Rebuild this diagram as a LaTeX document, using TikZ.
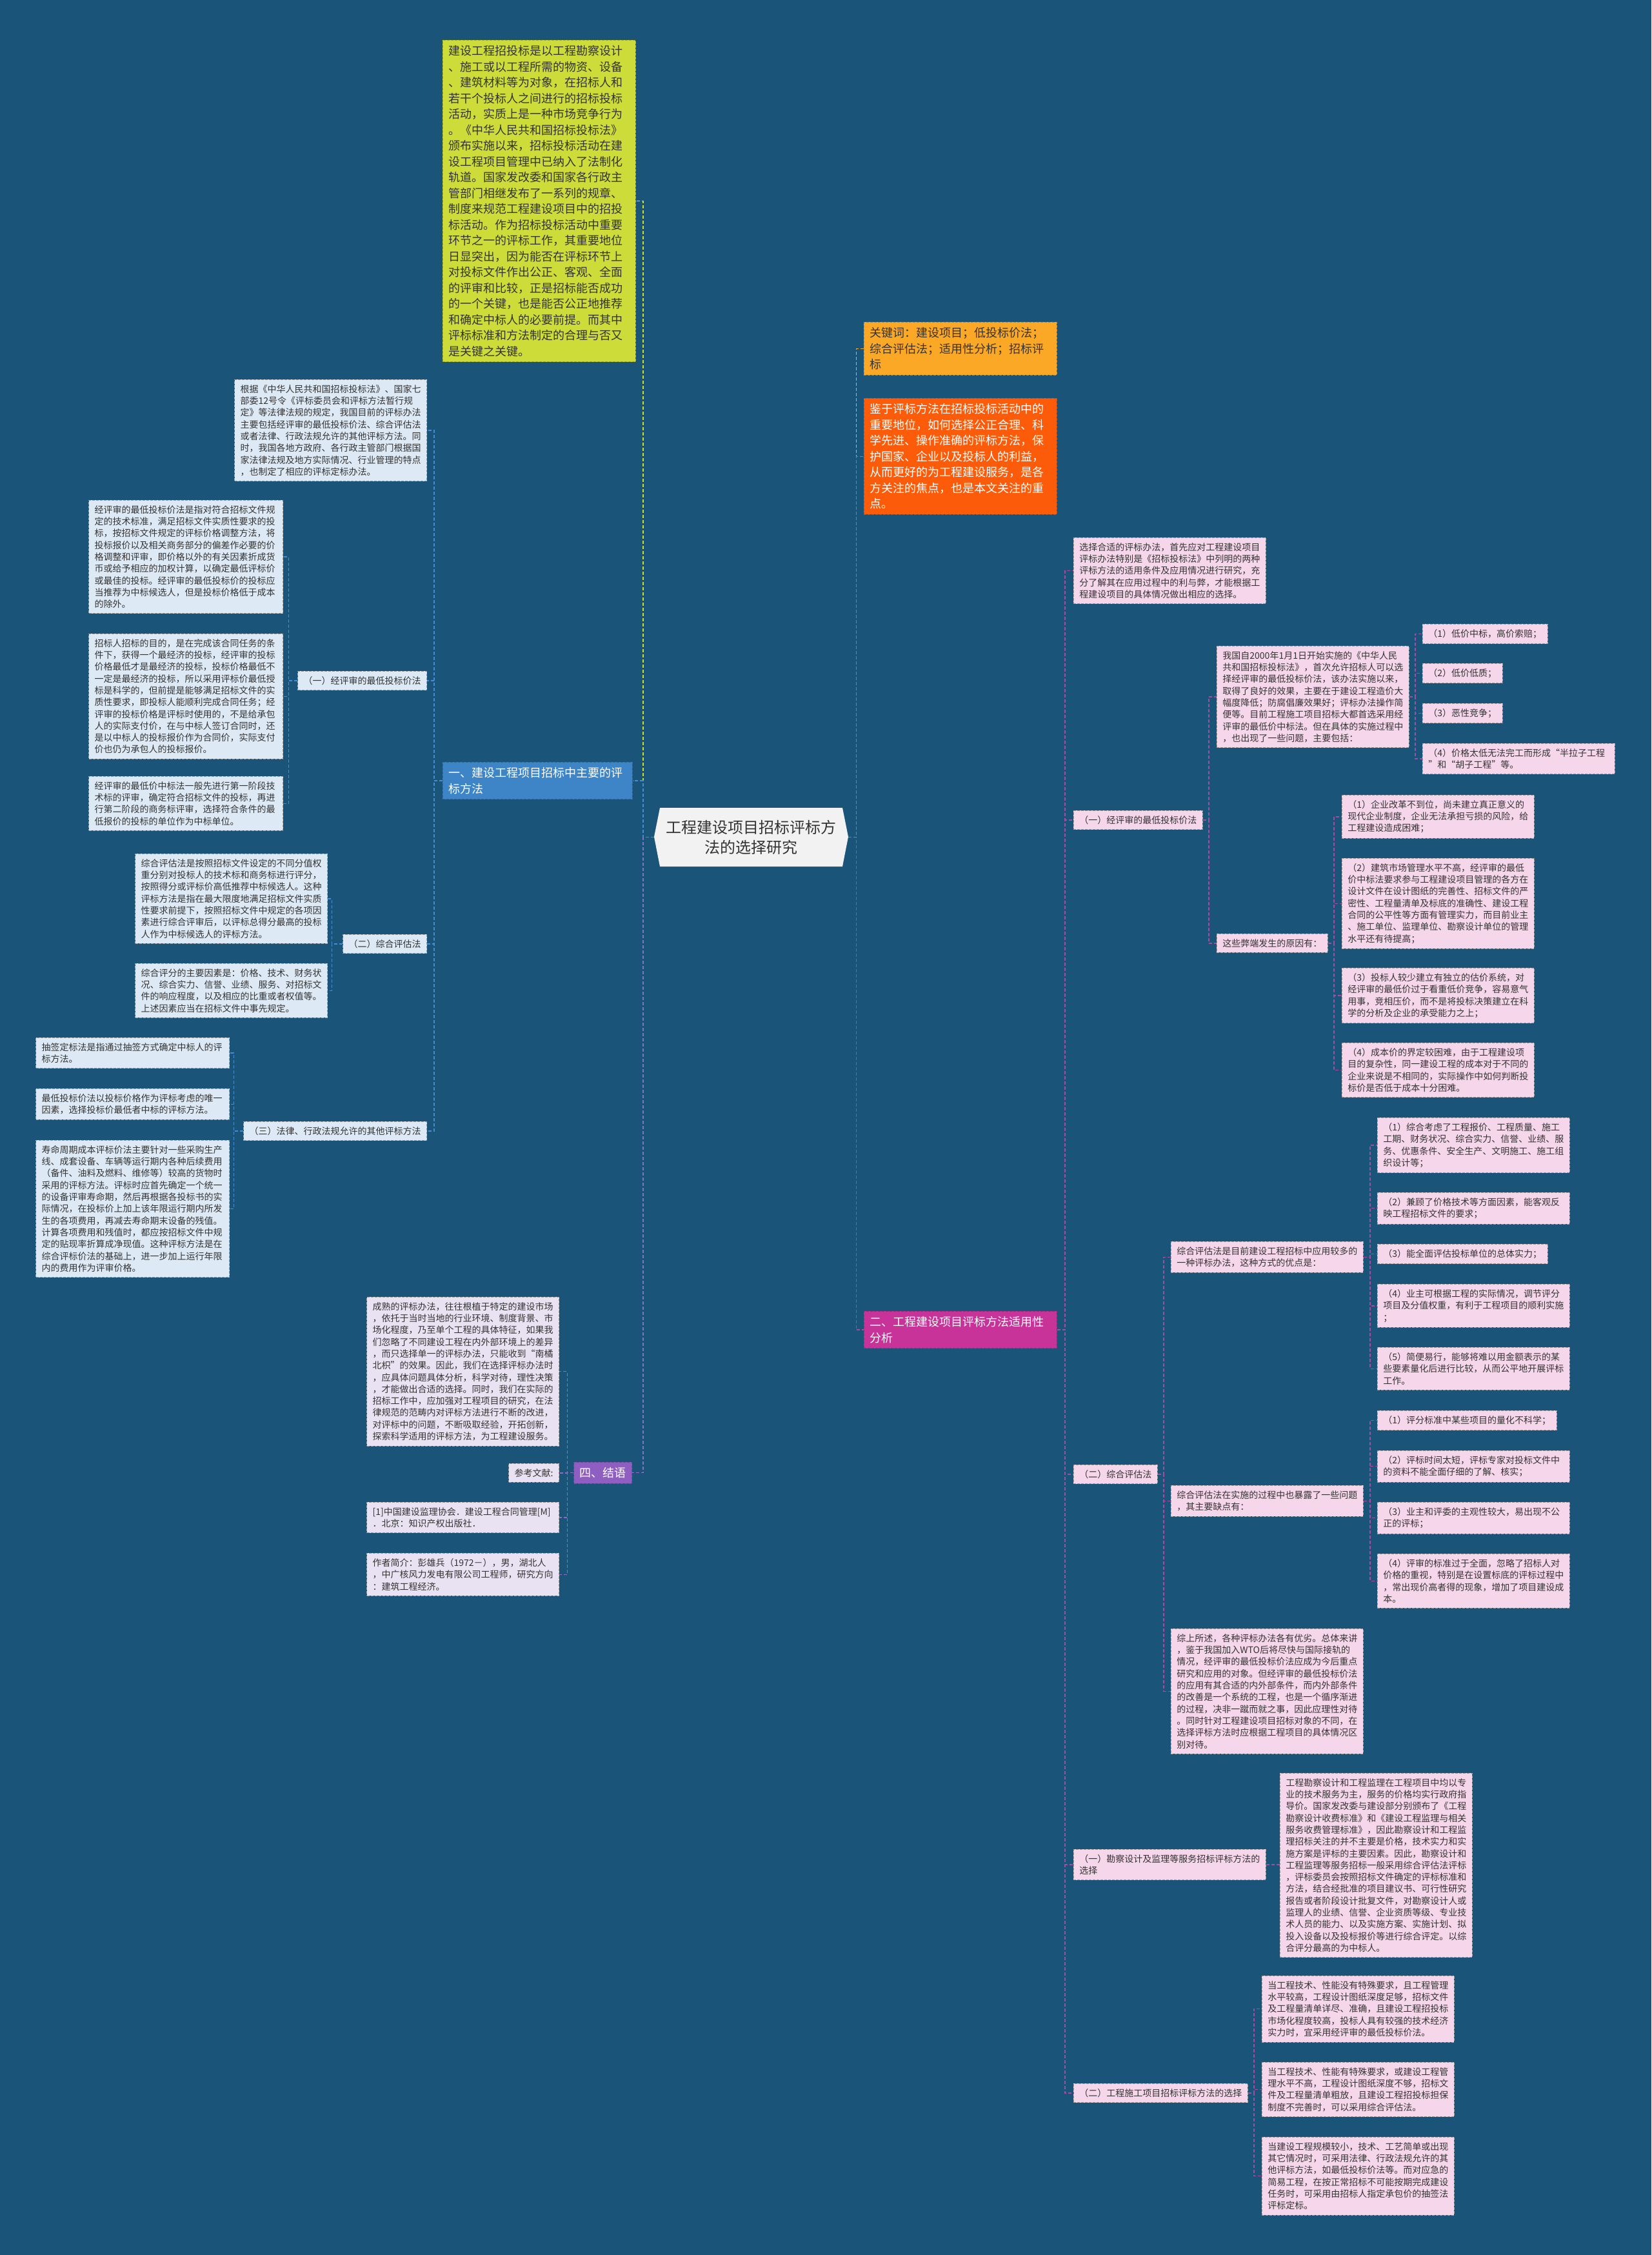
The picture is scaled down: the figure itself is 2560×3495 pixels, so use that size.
\documentclass[tikz,border=0pt]{standalone}
\usepackage{fontspec}
\setmainfont{Noto Sans CJK SC}

\definecolor{pagebg}{RGB}{26,84,121}
\definecolor{inktext}{RGB}{51,51,51}
\definecolor{rootfill}{RGB}{242,242,242}
\definecolor{limefill}{RGB}{205,220,57}
\definecolor{amberfill}{RGB}{250,168,37}
\definecolor{flamefill}{RGB}{252,92,10}
\definecolor{berryfill}{RGB}{199,51,152}
\definecolor{skyfill}{RGB}{61,133,198}
\definecolor{grapefill}{RGB}{142,94,192}
\definecolor{icefill}{RGB}{221,233,245}
\definecolor{mistfill}{RGB}{232,226,242}
\definecolor{rosefill}{RGB}{246,214,234}
\definecolor{skyline}{RGB}{70,140,210}
\definecolor{berryline}{RGB}{165,75,160}
\definecolor{grapeline}{RGB}{140,110,200}

\newcommand{\smalltext}{\fontsize{14}{18.3}\selectfont}
\newcommand{\bigtext}{\fontsize{18}{24.5}\selectfont}
\newcommand{\roottext}{\fontsize{24}{31}\selectfont}

\tikzset{
  box/.style={align=left, inner xsep=9pt, inner ysep=8pt, line width=0.8pt, dash pattern=on 4pt off 2pt},
  tw/.style={text width=#1pt},
  limebox/.style={box, draw=limefill!80!black, fill=limefill, text=inktext, font=\bigtext},
  amberbox/.style={box, draw=amberfill!80!black, fill=amberfill, text=inktext, font=\bigtext},
  flamebox/.style={box, draw=flamefill!80!black, fill=flamefill, text=white, font=\bigtext},
  berrybox/.style={box, draw=berryfill!80!black, fill=berryfill, text=white, font=\bigtext},
  skybox/.style={box, draw=skyfill!80!black, fill=skyfill, text=white, font=\bigtext},
  grapebox/.style={box, draw=grapefill!80!black, fill=grapefill, text=white, font=\bigtext},
  iceleaf/.style={box, draw=gray!75, fill=icefill, text=inktext, font=\smalltext},
  mistleaf/.style={box, draw=gray!75, fill=mistfill, text=inktext, font=\smalltext},
  roseleaf/.style={box, draw=gray!75, fill=rosefill, text=inktext, font=\smalltext},
  link/.style={line width=1.4pt, dash pattern=on 5pt off 3pt},
  limelink/.style={link, draw=limefill},
  amberlink/.style={link, draw=amberfill},
  flamelink/.style={link, draw=flamefill},
  skylink/.style={link, draw=skyline},
  berrylink/.style={link, draw=berryline},
  grapelink/.style={link, draw=grapeline}
}

\begin{document}
\begin{tikzpicture}[x=1pt, y=-1pt]
  \fill[pagebg] (0,0) rectangle (2560,3495);

  % centre
  \fill[rootfill] (1014,1297) -- (1023,1252) -- (1306,1252) -- (1315,1297) -- (1306,1343) -- (1023,1343) -- cycle;
  \node[font=\roottext, text=inktext, align=center, minimum width=301pt] (root) at (1164.5,1297.5) {工程建设项目招标评标方\\法的选择研究};

  % right main branches
  \node[amberbox, tw=281, anchor=north west] (kw) at (1339,499) {关键词：建设项目；低投标价法；\\综合评估法；适用性分析；招标评\\标};
  \node[flamebox, tw=281, anchor=north west] (aim) at (1339,617) {鉴于评标方法在招标投标活动中的\\重要地位，如何选择公正合理、科\\学先进、操作准确的评标方法，保\\护国家、企业以及投标人的利益，\\从而更好的为工程建设服务，是各\\方关注的焦点，也是本文关注的重\\点。};
  \node[berrybox, tw=281, anchor=north west] (sec2) at (1339,2032) {二、工程建设项目评标方法适用性\\分析};

  % left main branches
  \node[limebox, tw=281, anchor=north west] (intro) at (686,62) {建设工程招投标是以工程勘察设计\\、施工或以工程所需的物资、设备\\、建筑材料等为对象，在招标人和\\若干个投标人之间进行的招标投标\\活动，实质上是一种市场竞争行为\\。《中华人民共和国招标投标法》\\颁布实施以来，招标投标活动在建\\设工程项目管理中已纳入了法制化\\轨道。国家发改委和国家各行政主\\管部门相继发布了一系列的规章、\\制度来规范工程建设项目中的招投\\标活动。作为招标投标活动中重要\\环节之一的评标工作，其重要地位\\日显突出，因为能否在评标环节上\\对投标文件作出公正、客观、全面\\的评审和比较，正是招标能否成功\\的一个关键，也是能否公正地推荐\\和确定中标人的必要前提。而其中\\评标标准和方法制定的合理与否又\\是关键之关键。};
  \node[skybox, tw=276, anchor=north west] (sec1) at (686,1181) {一、建设工程项目招标中主要的评\\标方法};
  \node[grapebox, anchor=north east] (four) at (980,2266) {四、结语};

  % section one
  \node[iceleaf, tw=280, anchor=north east] (L1) at (662,588) {根据《中华人民共和国招标投标法》、国家七\\部委12号令《评标委员会和评标方法暂行规\\定》等法律法规的规定，我国目前的评标办法\\主要包括经评审的最低投标价法、综合评估法\\或者法律、行政法规允许的其他评标方法。同\\时，我国各地方政府、各行政主管部门根据国\\家法律法规及地方实际情况、行业管理的特点\\，也制定了相应的评标定标办法。};
  \node[iceleaf, anchor=north east] (LA) at (662,1040) {（一）经评审的最低投标价法};
  \node[iceleaf, tw=283, anchor=north east] (LA1) at (439,775) {经评审的最低投标价法是指对符合招标文件规\\定的技术标准，满足招标文件实质性要求的投\\标，按招标文件规定的评标价格调整方法，将\\投标报价以及相关商务部分的偏差作必要的价\\格调整和评审，即价格以外的有关因素折成货\\币或给予相应的加权计算，以确定最低评标价\\或最佳的投标。经评审的最低投标价的投标应\\当推荐为中标候选人，但是投标价格低于成本\\的除外。};
  \node[iceleaf, tw=283, anchor=north east] (LA2) at (439,982) {招标人招标的目的，是在完成该合同任务的条\\件下，获得一个最经济的投标，经评审的投标\\价格最低才是最经济的投标，投标价格最低不\\一定是最经济的投标，所以采用评标价最低授\\标是科学的，但前提是能够满足招标文件的实\\质性要求，即投标人能顺利完成合同任务；经\\评审的投标价格是评标时使用的，不是给承包\\人的实际支付价，在与中标人签订合同时，还\\是以中标人的投标报价作为合同价，实际支付\\价也仍为承包人的投标报价。};
  \node[iceleaf, tw=283, anchor=north east] (LA3) at (439,1203) {经评审的最低价中标法一般先进行第一阶段技\\术标的评审，确定符合招标文件的投标，再进\\行第二阶段的商务标评审，选择符合条件的最\\低报价的投标的单位作为中标单位。};
  \node[iceleaf, anchor=north east] (LB) at (662,1448) {（二）综合评估法};
  \node[iceleaf, tw=280, anchor=north east] (LB1) at (508,1323) {综合评估法是按照招标文件设定的不同分值权\\重分别对投标人的技术标和商务标进行评分，\\按照得分或评标价高低推荐中标候选人。这种\\评标方法是指在最大限度地满足招标文件实质\\性要求前提下，按照招标文件中规定的各项因\\素进行综合评审后，以评标总得分最高的投标\\人作为中标候选人的评标方法。};
  \node[iceleaf, tw=280, anchor=north east] (LB2) at (508,1493) {综合评分的主要因素是：价格、技术、财务状\\况、综合实力、信誉、业绩、服务、对招标文\\件的响应程度，以及相应的比重或者权值等。\\上述因素应当在招标文件中事先规定。};
  \node[iceleaf, anchor=north east] (LC) at (662,1738) {（三）法律、行政法规允许的其他评标方法};
  \node[iceleaf, tw=282, anchor=north east] (LC1) at (356,1608) {抽签定标法是指通过抽签方式确定中标人的评\\标方法。};
  \node[iceleaf, tw=282, anchor=north east] (LC2) at (356,1687) {最低投标价法以投标价格作为评标考虑的唯一\\因素，选择投标价最低者中标的评标方法。};
  \node[iceleaf, tw=282, anchor=north east] (LC3) at (356,1767) {寿命周期成本评标价法主要针对一些采购生产\\线、成套设备、车辆等运行期内各种后续费用\\（备件、油料及燃料、维修等）较高的货物时\\采用的评标方法。评标时应首先确定一个统一\\的设备评审寿命期，然后再根据各投标书的实\\际情况，在投标价上加上该年限运行期内所发\\生的各项费用，再减去寿命期末设备的残值。\\计算各项费用和残值时，都应按招标文件中规\\定的贴现率折算成净现值。这种评标方法是在\\综合评标价法的基础上，进一步加上运行年限\\内的费用作为评审价格。};

  % section four
  \node[mistleaf, tw=280, anchor=north east] (F1) at (867,2010) {成熟的评标办法，往往根植于特定的建设市场\\，依托于当时当地的行业环境、制度背景、市\\场化程度，乃至单个工程的具体特征，如果我\\们忽略了不同建设工程在内外部环境上的差异\\，而只选择单一的评标办法，只能收到“南橘\\北枳”的效果。因此，我们在选择评标办法时\\，应具体问题具体分析，科学对待，理性决策\\，才能做出合适的选择。同时，我们在实际的\\招标工作中，应加强对工程项目的研究，在法\\律规范的范畴内对评标方法进行不断的改进，\\对评标中的问题，不断吸取经验，开拓创新，\\探索科学适用的评标方法，为工程建设服务。};
  \node[mistleaf, anchor=north east] (F2) at (867,2268) {参考文献:};
  \node[mistleaf, tw=280, anchor=north east] (F3) at (867,2328) {[1]中国建设监理协会．建设工程合同管理[M]\\．北京：知识产权出版社．};
  \node[mistleaf, tw=280, anchor=north east] (F4) at (867,2407) {作者简介：彭雄兵（1972－），男，湖北人\\，中广核风力发电有限公司工程师，研究方向\\：建筑工程经济。};

  % section two
  \node[roseleaf, tw=280, anchor=north west] (R1) at (1664,833) {选择合适的评标办法，首先应对工程建设项目\\评标办法特别是《招标投标法》中列明的两种\\评标方法的适用条件及应用情况进行研究，充\\分了解其在应用过程中的利与弊，才能根据工\\程建设项目的具体情况做出相应的选择。};
  \node[roseleaf, anchor=north west] (RA) at (1664,1256) {（一）经评审的最低投标价法};
  \node[roseleaf, tw=280, anchor=north west] (RA1) at (1886,1001) {我国自2000年1月1日开始实施的《中华人民\\共和国招标投标法》，首次允许招标人可以选\\择经评审的最低投标价法，该办法实施以来，\\取得了良好的效果，主要在于建设工程造价大\\幅度降低；防腐倡廉效果好；评标办法操作简\\便等。目前工程施工项目招标大都首选采用经\\评审的最低价中标法。但在具体的实施过程中\\，也出现了一些问题，主要包括：};
  \node[roseleaf, anchor=north west] (RA1a) at (2205,967) {（1）低价中标，高价索赔；};
  \node[roseleaf, anchor=north west] (RA1b) at (2205,1028) {（2）低价低质；};
  \node[roseleaf, anchor=north west] (RA1c) at (2205,1090) {（3）恶性竞争；};
  \node[roseleaf, tw=280, anchor=north west] (RA1d) at (2205,1152) {（4）价格太低无法完工而形成“半拉子工程\\”和“胡子工程”等。};
  \node[roseleaf, anchor=north west] (RA2) at (1886,1447) {这些弊端发生的原因有：};
  \node[roseleaf, tw=280, anchor=north west] (RA2a) at (2080,1232) {（1）企业改革不到位，尚未建立真正意义的\\现代企业制度，企业无法承担亏损的风险，给\\工程建设造成困难；};
  \node[roseleaf, tw=280, anchor=north west] (RA2b) at (2080,1330) {（2）建筑市场管理水平不高，经评审的最低\\价中标法要求参与工程建设项目管理的各方在\\设计文件在设计图纸的完善性、招标文件的严\\密性、工程量清单及标底的准确性、建设工程\\合同的公平性等方面有管理实力，而目前业主\\、施工单位、监理单位、勘察设计单位的管理\\水平还有待提高；};
  \node[roseleaf, tw=280, anchor=north west] (RA2c) at (2080,1500) {（3）投标人较少建立有独立的估价系统，对\\经评审的最低价过于看重低价竞争，容易意气\\用事，竞相压价，而不是将投标决策建立在科\\学的分析及企业的承受能力之上；};
  \node[roseleaf, tw=280, anchor=north west] (RA2d) at (2080,1616) {（4）成本价的界定较困难，由于工程建设项\\目的复杂性，同一建设工程的成本对于不同的\\企业来说是不相同的，实际操作中如何判断投\\标价是否低于成本十分困难。};

  \node[roseleaf, anchor=north west] (RB) at (1664,2270) {（二）综合评估法};
  \node[roseleaf, tw=280, anchor=north west] (RB1) at (1815,1924) {综合评估法是目前建设工程招标中应用较多的\\一种评标办法，这种方式的优点是：};
  \node[roseleaf, tw=280, anchor=north west] (RB1a) at (2135,1732) {（1）综合考虑了工程报价、工程质量、施工\\工期、财务状况、综合实力、信誉、业绩、服\\务、优惠条件、安全生产、文明施工、施工组\\织设计等；};
  \node[roseleaf, tw=280, anchor=north west] (RB1b) at (2135,1848) {（2）兼顾了价格技术等方面因素，能客观反\\映工程招标文件的要求；};
  \node[roseleaf, anchor=north west] (RB1c) at (2135,1928) {（3）能全面评估投标单位的总体实力；};
  \node[roseleaf, tw=280, anchor=north west] (RB1d) at (2135,1990) {（4）业主可根据工程的实际情况，调节评分\\项目及分值权重，有利于工程项目的顺利实施\\；};
  \node[roseleaf, tw=280, anchor=north west] (RB1e) at (2135,2088) {（5）简便易行，能够将难以用金额表示的某\\些要素量化后进行比较，从而公平地开展评标\\工作。};
  \node[roseleaf, tw=280, anchor=north west] (RB2) at (1815,2302) {综合评估法在实施的过程中也暴露了一些问题\\，其主要缺点有：};
  \node[roseleaf, anchor=north west] (RB2a) at (2135,2186) {（1）评分标准中某些项目的量化不科学；};
  \node[roseleaf, tw=280, anchor=north west] (RB2b) at (2135,2248) {（2）评标时间太短，评标专家对投标文件中\\的资料不能全面仔细的了解、核实；};
  \node[roseleaf, tw=280, anchor=north west] (RB2c) at (2135,2328) {（3）业主和评委的主观性较大，易出现不公\\正的评标；};
  \node[roseleaf, tw=280, anchor=north west] (RB2d) at (2135,2408) {（4）评审的标准过于全面，忽略了招标人对\\价格的重视，特别是在设置标底的评标过程中\\，常出现价高者得的现象，增加了项目建设成\\本。};
  \node[roseleaf, tw=280, anchor=north west] (RB3) at (1815,2524) {综上所述，各种评标办法各有优劣。总体来讲\\，鉴于我国加入WTO后将尽快与国际接轨的\\情况，经评审的最低投标价法应成为今后重点\\研究和应用的对象。但经评审的最低投标价法\\的应用有其合适的内外部条件，而内外部条件\\的改善是一个系统的工程，也是一个循序渐进\\的过程，决非一蹴而就之事，因此应理性对待\\。同时针对工程建设项目招标对象的不同，在\\选择评标方法时应根据工程项目的具体情况区\\别对待。};

  \node[roseleaf, tw=280, anchor=north west] (RC) at (1664,2866) {（一）勘察设计及监理等服务招标评标方法的\\选择};
  \node[roseleaf, tw=280, anchor=north west] (RC1) at (1984,2748) {工程勘察设计和工程监理在工程项目中均以专\\业的技术服务为主，服务的价格均实行政府指\\导价。国家发改委与建设部分别颁布了《工程\\勘察设计收费标准》和《建设工程监理与相关\\服务收费管理标准》，因此勘察设计和工程监\\理招标关注的并不主要是价格，技术实力和实\\施方案是评标的主要因素。因此，勘察设计和\\工程监理等服务招标一般采用综合评估法评标\\，评标委员会按照招标文件确定的评标标准和\\方法，结合经批准的项目建议书、可行性研究\\报告或者阶段设计批复文件，对勘察设计人或\\监理人的业绩、信誉、企业资质等级、专业技\\术人员的能力、以及实施方案、实施计划、拟\\投入设备以及投标报价等进行综合评定。以综\\合评分最高的为中标人。};
  \node[roseleaf, anchor=north west] (RD) at (1664,3229) {（二）工程施工项目招标评标方法的选择};
  \node[roseleaf, tw=280, anchor=north west] (RD1) at (1956,3062) {当工程技术、性能没有特殊要求，且工程管理\\水平较高，工程设计图纸深度足够，招标文件\\及工程量清单详尽、准确，且建设工程招投标\\市场化程度较高，投标人具有较强的技术经济\\实力时，宜采用经评审的最低投标价法。};
  \node[roseleaf, tw=280, anchor=north west] (RD2) at (1956,3196) {当工程技术、性能有特殊要求，或建设工程管\\理水平不高，工程设计图纸深度不够，招标文\\件及工程量清单粗放，且建设工程招投标担保\\制度不完善时，可以采用综合评估法。};
  \node[roseleaf, tw=280, anchor=north west] (RD3) at (1956,3312) {当建设工程规模较小，技术、工艺简单或出现\\其它情况时，可采用法律、行政法规允许的其\\他评标方法，如最低投标价法等。而对应急的\\简易工程，在按正常招标不可能按期完成建设\\任务时，可采用由招标人指定承包价的抽签法\\评标定标。};

  % connectors from the centre
  \draw[grapelink] (root.west) -- ++(-17,0) |- (four.east);
  \draw[limelink] (root.west) -- ++(-17,0) |- (intro.east);
  \draw[skylink] (root.west) -- ++(-17,0) |- (sec1.east);
  \draw[berrylink] (root.east) -- ++(12,0) |- (sec2.west);
  \draw[amberlink] (root.east) -- ++(12,0) |- (kw.west);
  \draw[flamelink] (root.east) -- ++(12,0) |- (aim.west);

  % connectors, left side
  \foreach \n in {L1,LA,LB,LC} \draw[skylink] (sec1.west) -- ++(-13,0) |- (\n.east);
  \foreach \n in {LA1,LA2,LA3} \draw[skylink] (LA.west) -- ++(-14,0) |- (\n.east);
  \foreach \n in {LB1,LB2} \draw[skylink] (LB.west) -- ++(-17,0) |- (\n.east);
  \foreach \n in {LC1,LC2,LC3} \draw[skylink] (LC.west) -- ++(-15,0) |- (\n.east);
  \foreach \n in {F1,F2,F3,F4} \draw[grapelink] (four.west) -- ++(-10,0) |- (\n.east);

  % connectors, right side
  \foreach \n in {R1,RA,RB,RC,RD} \draw[berrylink] (sec2.east) -- ++(12,0) |- (\n.west);
  \foreach \n in {RA1,RA2} \draw[berrylink] (RA.east) -- ++(9,0) |- (\n.west);
  \foreach \n in {RA1a,RA1b,RA1c,RA1d} \draw[berrylink] (RA1.east) -- ++(9,0) |- (\n.west);
  \foreach \n in {RA2a,RA2b,RA2c,RA2d} \draw[berrylink] (RA2.east) -- ++(9,0) |- (\n.west);
  \foreach \n in {RB1,RB2,RB3} \draw[berrylink] (RB.east) -- ++(9,0) |- (\n.west);
  \foreach \n in {RB1a,RB1b,RB1c,RB1d,RB1e} \draw[berrylink] (RB1.east) -- ++(10,0) |- (\n.west);
  \foreach \n in {RB2a,RB2b,RB2c,RB2d} \draw[berrylink] (RB2.east) -- ++(10,0) |- (\n.west);
  \draw[berrylink] (RC.east) -- (RC.east -| RC1.west);
  \foreach \n in {RD1,RD2,RD3} \draw[berrylink] (RD.east) -- ++(9,0) |- (\n.west);
\end{tikzpicture}
\end{document}
